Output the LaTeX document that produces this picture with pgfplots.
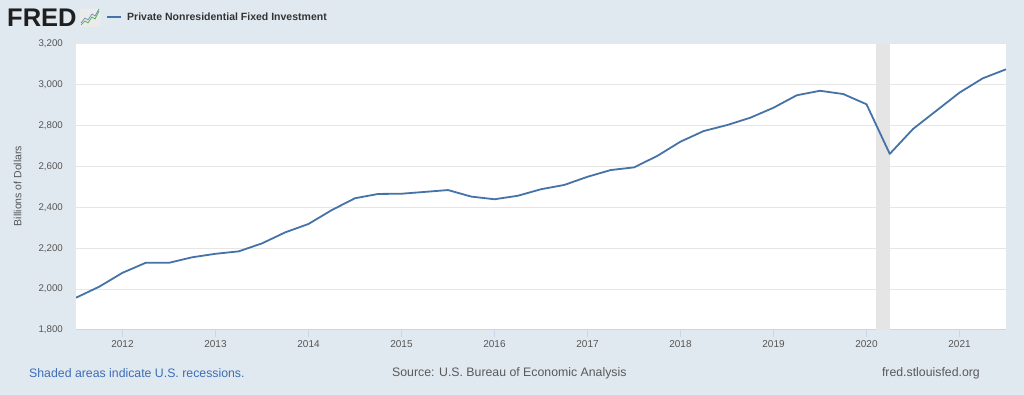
\documentclass[border=0pt]{standalone}
\usepackage{pgfplots}
\pgfplotsset{compat=1.18}
\usepackage{fontspec}
\setmainfont{Liberation Sans}
\definecolor{bgc}{HTML}{E1E9F0}
\definecolor{linec}{HTML}{4572A7}
\definecolor{gridc}{HTML}{E6E6E6}
\definecolor{recc}{HTML}{E5E5E5}
\definecolor{axc}{HTML}{CCD6EB}
\definecolor{labc}{HTML}{555555}
\definecolor{footblue}{HTML}{3D6DB5}
\definecolor{footgrey}{HTML}{595959}
\pgfplotstableread{
x y
2011.5 1958
2011.75 2012
2012.0 2080
2012.25 2129
2012.5 2129
2012.75 2156
2013.0 2173
2013.25 2185
2013.5 2224
2013.75 2278
2014.0 2319
2014.25 2387
2014.5 2445
2014.75 2466
2015.0 2467
2015.25 2476
2015.5 2485
2015.75 2453
2016.0 2440
2016.25 2457
2016.5 2489
2016.75 2510
2017.0 2550
2017.25 2583
2017.5 2596
2017.75 2652
2018.0 2722
2018.25 2774
2018.5 2803
2018.75 2839
2019.0 2888
2019.25 2949
2019.5 2971
2019.75 2955
2020.0 2905
2020.25 2662
2020.5 2784
2020.75 2873
2021.0 2962
2021.25 3032
2021.5 3076
}\pnfi
\begin{document}
\begin{tikzpicture}
\fill[bgc] (0pt,0pt) rectangle (1024pt,395pt);
% header
\node[anchor=west, inner sep=0pt, font=\fontsize{25.5}{25}\selectfont\bfseries, text=black!88] at (7pt,377.5pt) {FRED};
\fill[white!92!black, rounded corners=1pt] (80pt,368pt) rectangle (100pt,386pt);
\draw[green!55!black!70, line width=0.7pt] (81pt,370pt) -- (85pt,374pt) -- (88pt,372pt) -- (92pt,378pt) -- (95pt,376pt) -- (99pt,384pt);
\draw[linec!80, line width=0.7pt] (81pt,372pt) -- (85pt,377pt) -- (88pt,375pt) -- (92pt,381pt) -- (95pt,379pt) -- (99pt,386pt);
\draw[linec, line width=2pt] (107pt,378.3pt) -- (121pt,378.3pt);
\node[anchor=west, inner sep=0pt, font=\fontsize{10.5}{12}\selectfont\bfseries, text=black!80] at (127pt,378.3pt) {Private Nonresidential Fixed Investment};
% y label
\node[rotate=90, inner sep=0pt, font=\fontsize{10.5}{12}\selectfont, text=labc] at (17.5pt,209pt) {Billions of Dollars};
% footer
\node[anchor=west, inner sep=0pt, font=\fontsize{12.3}{14}\selectfont, text=footblue] at (29pt,21.5pt) {Shaded areas indicate U.S. recessions.};
\node[anchor=west, inner sep=0pt, font=\fontsize{12.3}{14}\selectfont, text=footgrey] at (392pt,21.5pt) {Source: U.S. Bureau of Economic Analysis};
\node[anchor=east, inner sep=0pt, font=\fontsize{12.3}{14}\selectfont, text=footgrey] at (980pt,21.5pt) {fred.stlouisfed.org};
\begin{axis}[
  at={(76pt,65pt)}, anchor=south west, scale only axis,
  width=930pt, height=286pt,
  xmin=2011.5, xmax=2021.5, ymin=1800, ymax=3200,
  axis background/.style={fill=white},
  axis x line*=bottom, axis y line*=left,
  x axis line style={draw=axc, line width=1pt, -},
  y axis line style={draw=none, -},
  xtick={2012,2013,...,2021},
  xticklabels={2012,2013,2014,2015,2016,2017,2018,2019,2020,2021},
  ytick={1800,2000,...,3200},
  yticklabels={{1,800},{2,000},{2,200},{2,400},{2,600},{2,800},{3,000},{3,200}},
  tick align=outside,
  xtick style={draw=axc, line width=1pt},
  major tick length=7pt,
  ytick style={draw=none},
  ymajorgrids,
  major grid style={draw=gridc, line width=1pt},
  xticklabel style={font=\fontsize{10}{12}\selectfont, text=labc, inner sep=0pt, anchor=north, yshift=-3pt},
  yticklabel style={font=\fontsize{9.7}{12}\selectfont, text=labc, inner sep=0pt, anchor=east, xshift=-6pt},
  clip=true,
]
\fill[recc] (axis cs:2020.1,1800) rectangle (axis cs:2020.25,3200);
\addplot[color=linec, line width=1.8pt, line join=round, mark=none] table[x=x,y=y] {\pnfi};
\end{axis}
\end{tikzpicture}
\end{document}
